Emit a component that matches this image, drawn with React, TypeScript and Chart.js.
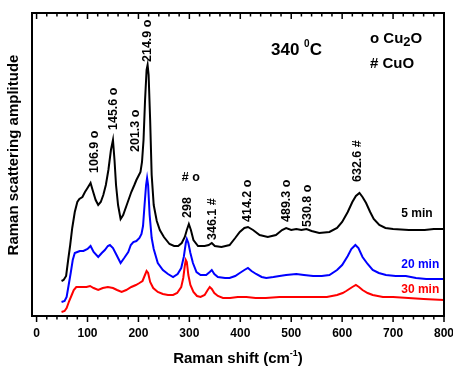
import React, { useEffect, useRef } from "react";
import { Chart, registerables } from "chart.js";

Chart.register(...registerables);

// ---- axis settings ----
const X_MIN = -9;
const X_MAX = 800;
const Y_MIN = 0;
const Y_MAX = 303;
const X_TICKS = [0, 100, 200, 300, 400, 500, 600, 700, 800];
const MINOR_STEP = 20;

// ---- spectra (Raman shift in cm-1, amplitude in arbitrary units) ----
const SHIFT_5MIN = [49,53,58,62,66,70,75,80,84,90,95,100,106,110,116,121,126,131,136,141,146,150,153,156,160,165,170,177,186,192,196,200,204,207,210,213,216,218,220,223,226,230,236,242,250,261,270,278,285,291,295,299,303,308,317,330,338,344,350,363,379,390,399,408,415,425,438,454,470,482,490,500,510,520,530,540,555,575,590,600,611,620,627,634,640,647,655,662,673,685,700,731,762,780,800];
const AMP_5MIN = [35,36,40,56,71,88,104,114,117,119,124,128,133,126,116,111,114,121,131,146,166,176,156,131,111,97,101,111,124,131,136,140,144,154,176,216,246,251,241,196,141,111,95,86,79,72,70,70,73,79,86,92,86,76,70,70,71,73,70,69,71,78,84,88,89,86,81,79,81,86,88,86,87,86,87,85,83,84,88,94,104,114,120,123,119,113,104,97,91,88,87,86,86,87,87];

const SHIFT_20MIN = [49,55,59,63,67,71,75,80,85,92,100,106,112,121,128,134,140,144,150,157,165,172,180,185,190,196,202,206,209,212,215,217,219,222,226,230,238,248,258,268,277,284,289,293,295,298,302,307,314,322,333,340,344,349,356,370,379,390,399,408,415,422,431,442,451,465,477,490,510,525,543,560,575,590,600,611,618,626,632,640,650,660,672,686,705,725,745,765,785,800];
const AMP_20MIN = [14,15,19,31,43,56,63,64,65,65,67,70,64,59,63,66,70,71,68,61,53,58,64,71,74,75,78,82,90,111,131,138,131,101,78,67,53,46,42,39,42,48,59,73,77,73,63,53,44,41,41,44,46,42,39,38,38,40,43,46,48,45,42,39,38,39,40,41,42,41,40,40,41,46,51,60,67,71,68,59,52,46,43,41,40,40,38,37,37,37];

const SHIFT_30MIN = [49,55,59,64,69,73,78,84,91,98,105,112,121,130,140,150,158,167,176,186,195,202,208,212,216,219,223,229,238,248,258,268,276,284,288,291,293,295,298,302,308,315,322,330,336,340,344,349,356,366,380,395,412,430,450,477,500,520,543,570,590,601,608,614,620,627,633,640,650,660,680,700,730,760,800];
const AMP_30MIN = [4,5,8,15,21,26,29,29,29,29,30,28,26,28,29,28,26,24,26,29,31,33,35,40,45,43,34,28,24,22,21,21,23,29,38,50,56,54,41,31,24,20,19,21,26,29,27,23,20,18,18,19,19,18,18,19,19,19,19,19,21,23,25,27,29,31,29,26,23,21,19,19,18,17,16];

const SERIES_NAMES = ["5 min", "20 min", "30 min"];
const SERIES_COLORS = ["#000000", "#0000ff", "#ff0000"];
const SERIES_LABEL_X = [716, 716, 716];
const SERIES_LABEL_Y = [102, 51, 26];

// ---- peak annotations (rotated, anchored at the bottom of the text) ----
const PEAK_LABELS = ["106.9 o", "145.6 o", "201.3 o", "214.9 o", "298", "346.1 #", "414.2 o", "489.3 o", "530.8 o", "632.6 #"];
const PEAK_LABEL_X = [114, 152, 195, 217, 297, 345, 415, 490, 533, 631];
const PEAK_LABEL_Y = [143, 186, 164, 254, 98, 76, 94, 94, 89, 134];

const FONT = 'Arial, "Liberation Sans", Helvetica, sans-serif';

type Part = { text: string; size: number; dy?: number };

function drawRich(ctx: CanvasRenderingContext2D, parts: Part[], x: number, y: number, align: "left" | "center") {
  let total = 0;
  const widths = parts.map((p) => {
    ctx.font = `bold ${p.size}px ${FONT}`;
    const w = ctx.measureText(p.text).width;
    total += w;
    return w;
  });
  let cx = align === "center" ? x - total / 2 : x;
  ctx.textAlign = "left";
  ctx.textBaseline = "alphabetic";
  parts.forEach((p, i) => {
    ctx.font = `bold ${p.size}px ${FONT}`;
    ctx.fillText(p.text, cx, y + (p.dy || 0));
    cx += widths[i];
  });
}

const overlayPlugin = {
  id: "overlay",
  afterDatasetsDraw(chart: any) {
    const { ctx, chartArea: a, scales } = chart;
    const xs = scales.x;
    const ys = scales.y;
    ctx.save();

    // frame
    ctx.strokeStyle = "#000";
    ctx.lineWidth = 2;
    ctx.strokeRect(a.left, a.top, a.right - a.left, a.bottom - a.top);

    // ticks: bottom outward, top inward
    ctx.lineWidth = 1.5;
    ctx.beginPath();
    for (let v = 0; v <= X_MAX; v += MINOR_STEP) {
      const px = xs.getPixelForValue(v);
      const major = v % 100 === 0;
      const len = major ? 6 : 3.5;
      ctx.moveTo(px, a.bottom);
      ctx.lineTo(px, a.bottom + len);
      ctx.moveTo(px, a.top);
      ctx.lineTo(px, a.top + len);
    }
    ctx.stroke();

    ctx.fillStyle = "#000";

    // peak labels
    PEAK_LABELS.forEach((t, i) => {
      const px = xs.getPixelForValue(PEAK_LABEL_X[i]);
      const py = ys.getPixelForValue(PEAK_LABEL_Y[i]);
      ctx.save();
      ctx.translate(px, py);
      ctx.rotate(-Math.PI / 2);
      ctx.font = `bold 12.5px ${FONT}`;
      ctx.textAlign = "left";
      ctx.textBaseline = "middle";
      ctx.fillText(t, 0, 0);
      ctx.restore();
    });

    // horizontal "# o" above 298
    ctx.font = `bold 12.5px ${FONT}`;
    ctx.textAlign = "center";
    ctx.textBaseline = "middle";
    ctx.fillText("# o", xs.getPixelForValue(303), ys.getPixelForValue(138));

    // series labels
    SERIES_NAMES.forEach((n, i) => {
      ctx.fillStyle = SERIES_COLORS[i];
      ctx.font = `bold 12px ${FONT}`;
      ctx.textAlign = "left";
      ctx.textBaseline = "middle";
      ctx.fillText(n, xs.getPixelForValue(SERIES_LABEL_X[i]), ys.getPixelForValue(SERIES_LABEL_Y[i]));
    });

    ctx.fillStyle = "#000";
    // temperature
    drawRich(ctx, [
      { text: "340 ", size: 17 },
      { text: "0", size: 10, dy: -8 },
      { text: "C", size: 17 },
    ], 271, 55, "left");

    // phase legend
    drawRich(ctx, [
      { text: "o Cu", size: 15 },
      { text: "2", size: 13, dy: 3 },
      { text: "O", size: 15 },
    ], 370, 43, "left");
    drawRich(ctx, [{ text: "# CuO", size: 15 }], 370, 68, "left");

    // x title
    drawRich(ctx, [
      { text: "Raman shift (cm", size: 15 },
      { text: "-1", size: 9, dy: -7 },
      { text: ")", size: 15 },
    ], (a.left + a.right) / 2, 363, "center");

    // y title
    ctx.save();
    ctx.translate(14, 155);
    ctx.rotate(-Math.PI / 2);
    ctx.font = `bold 15px ${FONT}`;
    ctx.textAlign = "center";
    ctx.textBaseline = "middle";
    ctx.fillText("Raman scattering amplitude", 0, 0);
    ctx.restore();

    ctx.restore();
  },
};

export default function App() {
  const ref = useRef<HTMLCanvasElement | null>(null);

  useEffect(() => {
    document.body.style.margin = "0";
    const canvas = ref.current;
    if (!canvas) return;
    const toPoints = (xs: number[], ys: number[]) => xs.map((x, i) => ({ x, y: ys[i] }));
    const allX = [SHIFT_5MIN, SHIFT_20MIN, SHIFT_30MIN];
    const allY = [AMP_5MIN, AMP_20MIN, AMP_30MIN];

    const chart = new Chart(canvas, {
      type: "line",
      data: {
        datasets: SERIES_NAMES.map((name, i) => ({
          label: name,
          data: toPoints(allX[i], allY[i]),
          borderColor: SERIES_COLORS[i],
          borderWidth: 2,
          pointRadius: 0,
          tension: 0,
          fill: false,
        })),
      },
      options: {
        responsive: false,
        animation: false,
        layout: { padding: { top: 13, right: 9, left: 32, bottom: 0 } },
        plugins: { legend: { display: false }, tooltip: { enabled: false } },
        scales: {
          x: {
            type: "linear",
            min: X_MIN,
            max: X_MAX,
            grid: { display: false, drawTicks: false },
            border: { display: false },
            afterBuildTicks: (s: any) => {
              s.ticks = X_TICKS.map((v) => ({ value: v }));
            },
            afterFit: (s: any) => {
              s.height = 50;
              s.paddingLeft = 0;
              s.paddingRight = 0;
            },
            ticks: {
              autoSkip: false,
              maxRotation: 0,
              padding: 10,
              color: "#000",
              font: { family: FONT, size: 12, weight: "bold" },
            },
          },
          y: { display: false, min: Y_MIN, max: Y_MAX },
        },
      },
      plugins: [overlayPlugin],
    } as any);

    return () => chart.destroy();
  }, []);

  return <canvas ref={ref} width={453} height={366} style={{ display: "block" }} />;
}
